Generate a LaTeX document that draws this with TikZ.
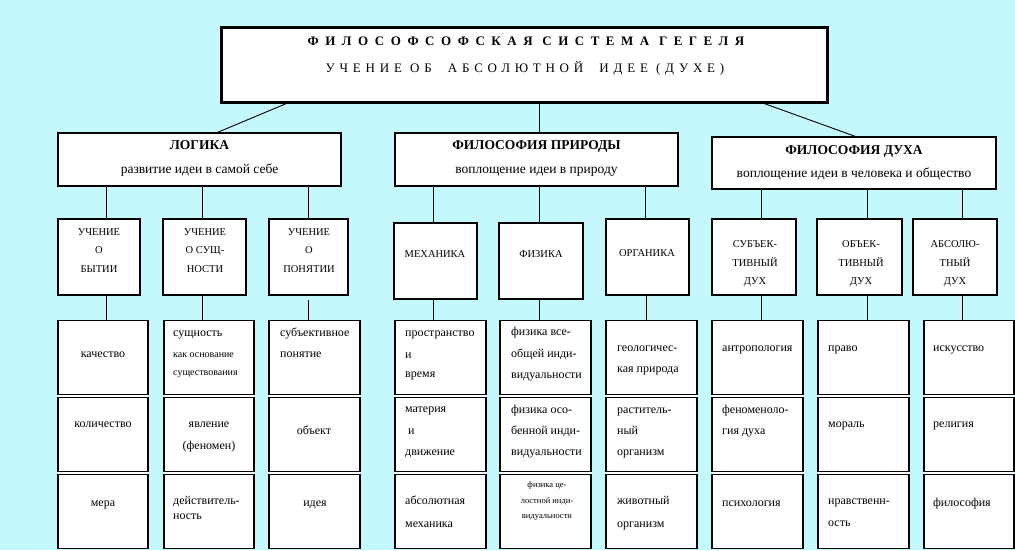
\documentclass[tikz,border=0pt]{standalone}
\usepackage{fontspec}
\setmainfont{Liberation Serif}
\definecolor{bgc}{RGB}{196,248,252}
\newcounter{tn}
\newcommand\TxL[4][12]{\stepcounter{tn}\node[lt,font=\fontsize{#1}{#1}\selectfont] (t\arabic{tn}) at (#2,#3) {#4};}
\newcommand\TxC[4][12]{\stepcounter{tn}\node[ct,font=\fontsize{#1}{#1}\selectfont] (t\arabic{tn}) at (#2,#3) {#4};}
\newcommand\LeafCol[3]{%
  \fill[white] ({#2-#3/2},320) rectangle ({#2+#3/2},549);
  \node[leafbox,minimum width=#3,minimum height=74] (#1a) at (#2,357.5) {};
  \node[leafbox,minimum width=#3,minimum height=74] (#1b) at (#2,434.5) {};
  \node[leafbox,minimum width=#3,minimum height=74] (#1c) at (#2,511.5) {};}
\tikzset{
  bigbox/.style={draw,line width=3pt,fill=white,inner sep=0pt,outer sep=0pt},
  hdrbox/.style={draw,line width=2.4pt,fill=white,inner sep=0pt,outer sep=0pt},
  subbox/.style={draw,line width=2.8pt,fill=white,inner sep=0pt,outer sep=0pt},
  leafbox/.style={draw,line width=1.2pt,fill=white,inner sep=0pt,outer sep=0pt},
  conn/.style={line width=0.9pt},
  lt/.style={inner sep=0pt,anchor=base west},
  ct/.style={inner sep=0pt,anchor=base},
}
\begin{document}
\begin{tikzpicture}[x=1pt,y=-1pt]
\useasboundingbox (0,0) rectangle (1015,550);
\fill[bgc] (0,0) rectangle (1015,550);
% top box
\node[bigbox,minimum width=606,minimum height=75] (top) at (524,64.5) {};
\node[ct,font=\fontsize{13}{14}\selectfont\bfseries\addfontfeature{LetterSpace=50}] (ttl1) at (526,45) {ФИЛОСОФСОФСКАЯ СИСТЕМА ГЕГЕЛЯ};
\node[ct,font=\fontsize{13}{14}\selectfont\addfontfeature{LetterSpace=37}] (ttl2) at (525,72) {УЧЕНИЕ ОБ \ АБСОЛЮТНОЙ \ ИДЕЕ (ДУХЕ)};
% header boxes
\node[hdrbox,minimum width=283,minimum height=53] (logic) at (199.5,159.5) {};
\node[hdrbox,minimum width=283,minimum height=53] (nature) at (536.5,159.5) {};
\node[hdrbox,minimum width=284,minimum height=52] (spirit) at (854,163) {};
\node[ct,font=\fontsize{13.5}{14}\selectfont\bfseries] (h1) at (199.5,149) {ЛОГИКА};
\node[ct,font=\fontsize{13.5}{14}\selectfont] (h1s) at (199.5,173) {развитие идеи в самой себе};
\node[ct,font=\fontsize{13.5}{14}\selectfont\bfseries] (h2) at (536.5,149) {ФИЛОСОФИЯ ПРИРОДЫ};
\node[ct,font=\fontsize{13.5}{14}\selectfont] (h2s) at (536.5,173) {воплощение идеи в природу};
\node[ct,font=\fontsize{13.5}{14}\selectfont\bfseries] (h3) at (854,154) {ФИЛОСОФИЯ ДУХА};
\node[ct,font=\fontsize{13.5}{14}\selectfont] (h3s) at (854,177) {воплощение идеи в человека и общество};
% sub boxes
\node[subbox,minimum width=82,minimum height=76] (ub) at (99,257) {};
\node[subbox,minimum width=83,minimum height=76] (us) at (204.5,257) {};
\node[subbox,minimum width=79,minimum height=76] (up) at (308.5,257) {};
\node[subbox,minimum width=83,minimum height=76] (mech) at (435.5,261) {};
\node[subbox,minimum width=84,minimum height=76] (phys) at (541,261) {};
\node[subbox,minimum width=83,minimum height=76] (org) at (647.5,257) {};
\node[subbox,minimum width=84,minimum height=76] (ss) at (754,257) {};
\node[subbox,minimum width=85,minimum height=76] (os) at (859.5,257) {};
\node[subbox,minimum width=84,minimum height=76] (as) at (955,257) {};
% leaf boxes
\LeafCol{a}{103}{90}
\LeafCol{b}{209}{90}
\LeafCol{c}{314.5}{91}
\LeafCol{d}{440.5}{91}
\LeafCol{e}{545.5}{91}
\LeafCol{f}{651.5}{91}
\LeafCol{g}{757.5}{91}
\LeafCol{h}{863.5}{91}
\LeafCol{i}{969}{90}
% connectors
\draw[conn] ([xshift=69]top.south west) -- ([xshift=158]logic.north west);
\draw[conn] ([xshift=318]top.south west) -- ([xshift=144]nature.north west);
\draw[conn] ([xshift=539]top.south west) -- ([xshift=145]spirit.north west);
\draw[conn] ([xshift=48]logic.south west) -- ([xshift=48]ub.north west);
\draw[conn] ([xshift=144]logic.south west) -- ([xshift=39]us.north west);
\draw[conn] ([xshift=250]logic.south west) -- ([xshift=39]up.north west);
\draw[conn] ([xshift=38]nature.south west) -- ([xshift=39]mech.north west);
\draw[conn] ([xshift=144]nature.south west) -- ([xshift=40]phys.north west);
\draw[conn] ([xshift=250]nature.south west) -- ([xshift=39]org.north west);
\draw[conn] ([xshift=49]spirit.south west) -- ([xshift=49]ss.north west);
\draw[conn] ([xshift=155]spirit.south west) -- ([xshift=50]os.north west);
\draw[conn] ([xshift=250]spirit.south west) -- ([xshift=49]as.north west);
\draw[conn] ([xshift=48]ub.south west) -- ([xshift=48]aa.north west);
\draw[conn] ([xshift=39]us.south west) -- ([xshift=38]ba.north west);
\draw[conn] ([xshift=39,yshift=-5]up.south west) -- ([xshift=39]ca.north west);
\draw[conn] ([xshift=39]mech.south west) -- ([xshift=38]da.north west);
\draw[conn] ([xshift=40]phys.south west) -- ([xshift=39]ea.north west);
\draw[conn] ([xshift=40]org.south west) -- ([xshift=40]fa.north west);
\draw[conn] ([xshift=49]ss.south west) -- ([xshift=49]ga.north west);
\draw[conn] ([xshift=50]os.south west) -- ([xshift=49]ha.north west);
\draw[conn] ([xshift=49]as.south west) -- ([xshift=38]ia.north west);
% sub box texts
\TxC[10.5]{99}{235}{УЧЕНИЕ}\TxC[10.5]{99}{253}{О}\TxC[10.5]{99}{272}{БЫТИИ}
\TxC[10.5]{205}{235}{УЧЕНИЕ}\TxC[10.5]{205}{253}{О СУЩ-}\TxC[10.5]{205}{272}{НОСТИ}
\TxC[10.5]{309}{235}{УЧЕНИЕ}\TxC[10.5]{309}{253}{О}\TxC[10.5]{309}{272}{ПОНЯТИИ}
\TxC[10.5]{435}{257}{МЕХАНИКА}
\TxC[10.5]{541}{257}{ФИЗИКА}
\TxC[10.5]{647}{256}{ОРГАНИКА}
\TxC[10.5]{755}{247}{СУБЪЕК-}\TxC[10.5]{755}{266}{ТИВНЫЙ}\TxC[10.5]{755}{284}{ДУХ}
\TxC[10.5]{861}{247}{ОБЪЕК-}\TxC[10.5]{861}{266}{ТИВНЫЙ}\TxC[10.5]{861}{284}{ДУХ}
\TxC[10.5]{955}{247}{АБСОЛЮ-}\TxC[10.5]{955}{266}{ТНЫЙ}\TxC[10.5]{955}{284}{ДУХ}
% leaf texts: logic
\TxC{103}{357}{качество}
\TxC{103}{427}{количество}
\TxC{103}{506}{мера}
\TxL{173}{336}{сущность}
\TxL[10]{173}{357}{как основание}
\TxL[10]{173}{375}{существования}
\TxC{209}{427}{явление}
\TxC{209}{449}{(феномен)}
\TxL{173}{504}{действитель-}
\TxL{173}{519}{ность}
\TxL{280}{336}{субъективное}
\TxL{280}{357}{понятие}
\TxC{314}{434}{объект}
\TxC{315}{506}{идея}
% nature
\TxL{405}{336}{пространство}
\TxL{405}{358}{и}
\TxL{405}{377}{время}
\TxL{405}{412}{материя}
\TxL{408}{434}{и}
\TxL{405}{455}{движение}
\TxL{405}{504}{абсолютная}
\TxL{405}{527}{механика}
\TxL{511}{335}{физика все-}
\TxL{511}{357}{общей инди-}
\TxL{511}{378}{видуальности}
\TxL{511}{413}{физика осо-}
\TxL{511}{434}{бенной инди-}
\TxL{511}{455}{видуальности}
\TxC[8.5]{547}{487}{физика це-}
\TxC[8.5]{547}{503}{лостной инди-}
\TxC[8.5]{547}{518}{видуальности}
\TxL{617}{351}{геологичес-}
\TxL{617}{372}{кая природа}
\TxL{617}{413}{раститель-}
\TxL{617}{434}{ный}
\TxL{617}{455}{организм}
\TxL{617}{504}{животный}
\TxL{617}{527}{организм}
% spirit
\TxL{722}{351}{антропология}
\TxL{722}{413}{феноменоло-}
\TxL{722}{434}{гия духа}
\TxL{722}{506}{психология}
\TxL{828}{351}{право}
\TxL{828}{427}{мораль}
\TxL{828}{504}{нравственн-}
\TxL{828}{526}{ость}
\TxL{933}{351}{искусство}
\TxL{933}{427}{религия}
\TxL{933}{506}{философия}
\end{tikzpicture}
\end{document}
